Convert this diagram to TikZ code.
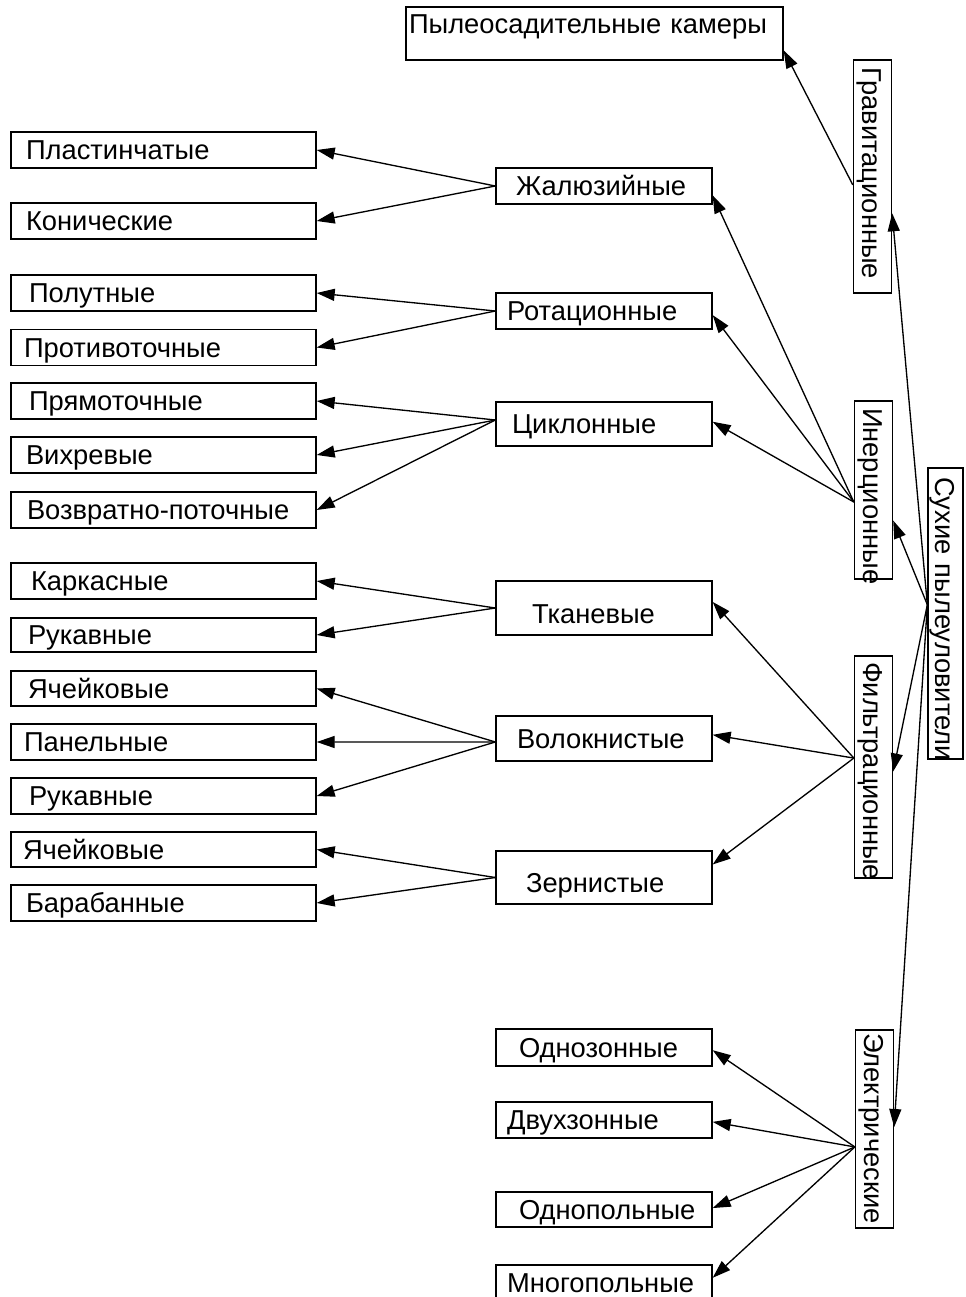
\documentclass[tikz,border=0pt]{standalone}
\usepackage{fontspec}
\setmainfont{Liberation Sans}
\usetikzlibrary{arrows.meta,calc}
\begin{document}
\begin{tikzpicture}[x=0.75pt,y=-0.75pt,
  every node/.style={font=\fontsize{20.5pt}{24pt}\selectfont},
  boxbase/.style={draw, line width=1pt, inner ysep=0pt, text height=17.5pt, text depth=2.8pt},
  leftbox/.style={boxbase, minimum width=228.75pt, minimum height=27pt, inner xsep=9pt, text width=210.75pt, align=left},
  midbox/.style={boxbase, minimum width=162pt, inner xsep=4.5pt, text width=153pt, align=left},
  vbox/.style={boxbase, rotate=-90, minimum height=28.5pt, align=left},
  arr/.style={draw, line width=1pt, -{Triangle[length=13.5pt,width=9pt]}}
]
\useasboundingbox (0,0) rectangle (966,1297);

% top box
\node[boxbase, minimum width=282.75pt, minimum height=39.75pt, inner xsep=2.25pt, text width=278.25pt, align=left, text height=15.5pt, text depth=15.1pt] (pyl) at (594.5,33.5) {\mbox{Пылеосадительные камеры}};

% left column
\node[leftbox] (plast) at (163.5,150) {\hspace*{2.25pt}Пластинчатые};
\node[leftbox] (kon) at (163.5,221) {\hspace*{2.25pt}Конические};
\node[leftbox] (polut) at (163.5,293) {\hspace*{4.5pt}Полутные};
\node[leftbox] (protiv) at (163.5,347.5) {\hspace*{0.75pt}Противоточные};
\node[leftbox] (pryam) at (163.5,401) {\hspace*{4.5pt}Прямоточные};
\node[leftbox] (vihr) at (163.5,455) {\hspace*{2.25pt}Вихревые};
\node[leftbox] (vozvr) at (163.5,510) {\hspace*{3pt}\mbox{Возвратно-поточные}};
\node[leftbox] (kark) at (163.5,581) {\hspace*{6pt}Каркасные};
\node[leftbox, minimum height=25.5pt] (rukav) at (163.5,635) {\hspace*{3.75pt}Рукавные};
\node[leftbox, minimum height=26.25pt] (yach) at (163.5,688.5) {\hspace*{3.75pt}Ячейковые};
\node[leftbox] (panel) at (163.5,742) {\hspace*{0.75pt}Панельные};
\node[leftbox] (rukavb) at (163.5,796) {\hspace*{4.5pt}Рукавные};
\node[leftbox, minimum height=26.25pt] (yachb) at (163.5,849.5) {Ячейковые};
\node[leftbox] (barab) at (163.5,903) {\hspace*{2.25pt}Барабанные};

% middle column
\node[midbox, minimum height=27pt] (jal) at (604,186) {\hspace*{10.5pt}Жалюзийные};
\node[midbox, minimum height=27pt] (rot) at (604,311) {\hspace*{3.75pt}Ротационные};
\node[midbox, minimum height=33pt] (cikl) at (604,424) {\hspace*{7.5pt}Циклонные};
\node[midbox, minimum height=40.5pt, text height=26.5pt, text depth=2.9pt] (tkan) at (604,608) {\hspace*{22.5pt}Тканевые};
\node[midbox, minimum height=33.75pt] (volok) at (604,738.5) {\hspace*{11.25pt}Волокнистые};
\node[midbox, minimum height=39.75pt, text height=26pt, text depth=3.2pt] (zern) at (604,877.5) {\hspace*{18pt}Зернистые};
\node[midbox, minimum height=27.75pt] (odnoz) at (604,1047.5) {\hspace*{12.75pt}Однозонные};
\node[midbox, minimum height=27pt] (dvuhz) at (604,1120) {\hspace*{3.75pt}Двухзонные};
\node[midbox, minimum height=26.25pt] (odnop) at (604,1209.5) {\hspace*{12.75pt}Однопольные};
\node[midbox, minimum height=27pt] (mnogop) at (604,1283) {\hspace*{3.75pt}\mbox{Многопольные}};

% vertical boxes
\node[vbox, minimum width=174.75pt, inner xsep=5.25pt, text width=164.25pt] (grav) at (872.5,176.5) {\mbox{Гравитационные}};
\node[vbox, minimum width=133.5pt, inner xsep=5.25pt, text width=123pt] (iner) at (873.5,490) {\mbox{Инерционные}};
\node[vbox, minimum width=218.25pt, minimum height=26.25pt, inner xsep=6.75pt, text width=204.75pt] (dry) at (945.5,613.5) {\mbox{Сухие пылеуловители}};
\node[vbox, minimum width=166.5pt, inner xsep=4.5pt, text width=157.5pt] (filtr) at (873.5,767) {\mbox{Фильтрационные}};
\node[vbox, minimum width=148.5pt, inner xsep=2.25pt, text width=144pt] (elec) at (874.5,1129) {\mbox{Электрические}};

% connectors from the root
\draw[arr] ($(dry.south west)!0.47!(dry.south east)$) -- ($(grav.north west)!0.657!(grav.north east)$);
\draw[arr] ($(dry.south west)!0.47!(dry.south east)$) -- ($(iner.north west)!0.67!(iner.north east)$);
\draw[arr] ($(dry.south west)!0.47!(dry.south east)$) -- ($(filtr.north west)!0.52!(filtr.north east)$);
\draw[arr] ($(dry.south west)!0.47!(dry.south east)$) -- ($(elec.north west)!0.49!(elec.north east)$);

% gravitational
\draw[arr] ($(grav.south west)!0.536!(grav.south east)$) -- ($(pyl.north east)!0.81!(pyl.south east)$);

% inertial
\draw[arr] ($(iner.south west)!0.567!(iner.south east)$) -- ($(jal.north east)!0.75!(jal.south east)$);
\draw[arr] ($(iner.south west)!0.567!(iner.south east)$) -- ($(rot.north east)!0.61!(rot.south east)$);
\draw[arr] ($(iner.south west)!0.567!(iner.south east)$) -- ($(cikl.north east)!0.45!(cikl.south east)$);

% filtration
\draw[arr] ($(filtr.south west)!0.46!(filtr.south east)$) -- ($(tkan.north east)!0.39!(tkan.south east)$);
\draw[arr] ($(filtr.south west)!0.46!(filtr.south east)$) -- ($(volok.north east)!0.42!(volok.south east)$);
\draw[arr] ($(filtr.south west)!0.46!(filtr.south east)$) -- ($(zern.north east)!0.26!(zern.south east)$);

% electric
\draw[arr] ($(elec.south west)!0.59!(elec.south east)$) -- ($(odnoz.north east)!0.57!(odnoz.south east)$);
\draw[arr] ($(elec.south west)!0.59!(elec.south east)$) -- ($(dvuhz.north east)!0.55!(dvuhz.south east)$);
\draw[arr] ($(elec.south west)!0.59!(elec.south east)$) -- ($(odnop.north east)!0.46!(odnop.south east)$);
\draw[arr] ($(elec.south west)!0.59!(elec.south east)$) -- ($(mnogop.north east)!0.36!(mnogop.south east)$);

% second level
\draw[arr] (jal.west) -- (plast.east);
\draw[arr] (jal.west) -- (kon.east);
\draw[arr] (rot.west) -- (polut.east);
\draw[arr] (rot.west) -- (protiv.east);
\draw[arr] ([yshift=3pt]cikl.west) -- (pryam.east);
\draw[arr] ([yshift=3pt]cikl.west) -- (vihr.east);
\draw[arr] ([yshift=3pt]cikl.west) -- (vozvr.east);
\draw[arr] (tkan.west) -- (kark.east);
\draw[arr] (tkan.west) -- (rukav.east);
\draw[arr] ([yshift=-2.6pt]volok.west) -- (yach.east);
\draw[arr] ([yshift=-2.6pt]volok.west) -- (panel.east);
\draw[arr] ([yshift=-2.6pt]volok.west) -- (rukavb.east);
\draw[arr] (zern.west) -- (yachb.east);
\draw[arr] (zern.west) -- (barab.east);
\end{tikzpicture}
\end{document}
